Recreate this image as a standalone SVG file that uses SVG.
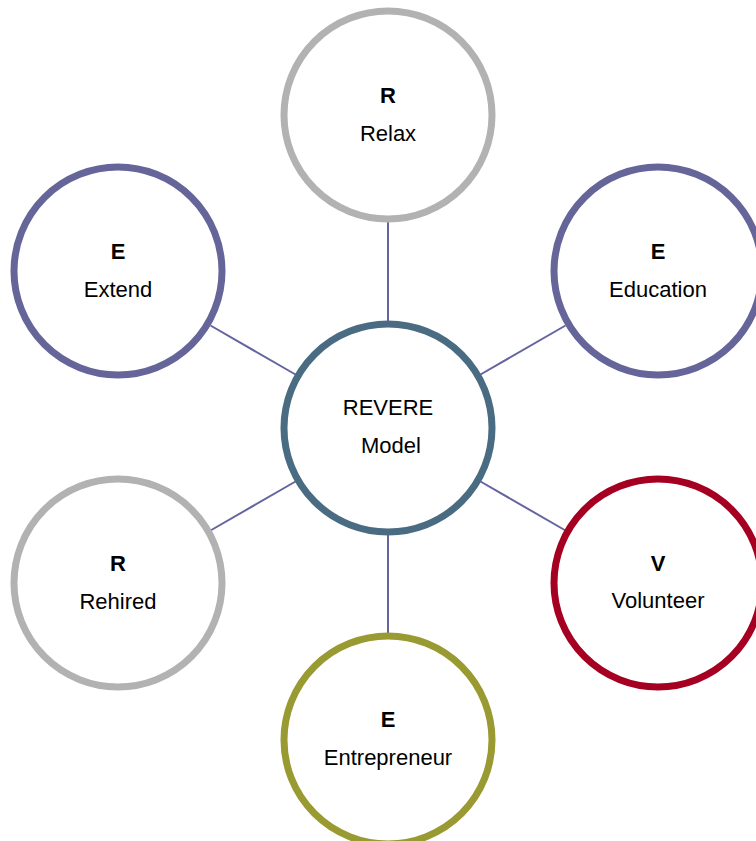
<svg xmlns="http://www.w3.org/2000/svg" width="756" height="841" viewBox="0 0 756 841">
<style>
.c{fill:#fff;stroke-width:7}
.t{font-family:"Liberation Sans",Arial,sans-serif;font-size:22px;text-anchor:middle;fill:#000}
.b{font-weight:bold}
.ln{stroke:#6464A0;stroke-width:2}
</style>
<rect width="756" height="841" fill="#fff"/>
<g id="connectors">
<line class="ln" x1="388" y1="321" x2="388" y2="222"/>
<line class="ln" x1="295.5" y1="374.5" x2="210.5" y2="325.5"/>
<line class="ln" x1="480.5" y1="374.5" x2="565.5" y2="325.5"/>
<line class="ln" x1="295.5" y1="481.5" x2="210.5" y2="530.5"/>
<line class="ln" x1="480.5" y1="481.5" x2="565.5" y2="530.5"/>
<line class="ln" x1="388" y1="535" x2="388" y2="634"/>
</g>
<g id="relax">
<circle class="c" cx="388" cy="115" r="104" stroke="#B2B2B2"/>
<text class="t b" x="388" y="103">R</text>
<text class="t" x="388" y="141">Relax</text>
</g>
<g id="extend">
<circle class="c" cx="118" cy="271" r="104" stroke="#65659A"/>
<text class="t b" x="118" y="259">E</text>
<text class="t" x="118" y="297">Extend</text>
</g>
<g id="education">
<circle class="c" cx="658" cy="271" r="104" stroke="#65659A"/>
<text class="t b" x="658" y="259">E</text>
<text class="t" x="658" y="297">Education</text>
</g>
<g id="center">
<circle class="c" cx="388" cy="428" r="104" stroke="#4A6C82"/>
<text class="t" x="388" y="415">REVERE</text>
<text class="t" x="391" y="453">Model</text>
</g>
<g id="rehired">
<circle class="c" cx="118" cy="583" r="104" stroke="#B2B2B2"/>
<text class="t b" x="118" y="571">R</text>
<text class="t" x="118" y="609">Rehired</text>
</g>
<g id="volunteer">
<circle class="c" cx="658" cy="583" r="104" stroke="#A50021"/>
<text class="t b" x="658" y="571">V</text>
<text class="t" x="658" y="608">Volunteer</text>
</g>
<g id="entrepreneur">
<circle class="c" cx="388" cy="740" r="104" stroke="#9A9A33"/>
<text class="t b" x="388" y="727">E</text>
<text class="t" x="388" y="765">Entrepreneur</text>
</g>
</svg>
